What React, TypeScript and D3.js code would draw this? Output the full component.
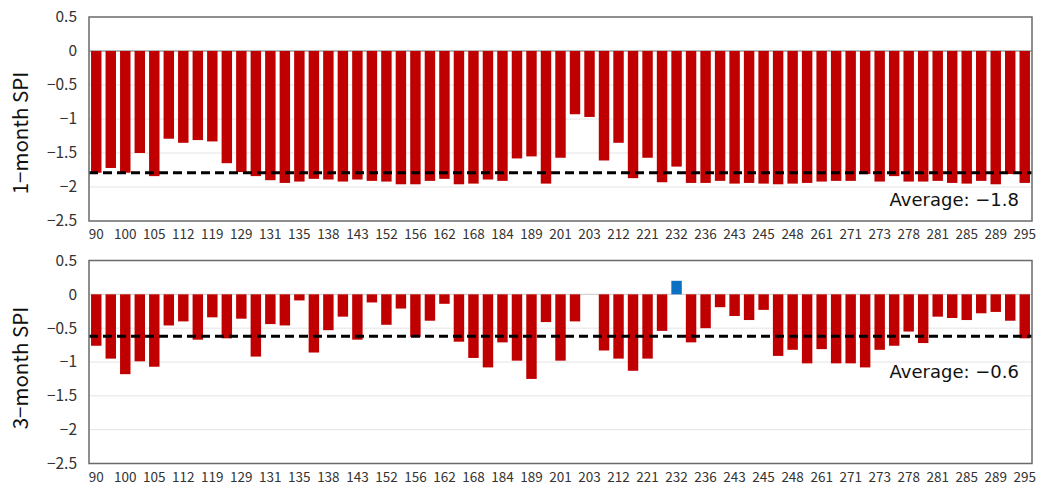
import React from "react";
import * as d3 from "d3";

// x labels are shown on every other bar (bar 0, 2, 4 ... 64)
const tickLabels = [
  "90", "100", "105", "112", "119", "129", "131", "135", "138", "143", "152",
  "156", "162", "168", "184", "189", "201", "203", "212", "221", "232", "236",
  "243", "245", "248", "261", "271", "273", "278", "281", "285", "289", "295",
];

// 1-month SPI, one value per bar
const spi1 = [
  -1.79, -1.72, -1.79, -1.5, -1.84, -1.29, -1.35, -1.31, -1.33, -1.65,
  -1.78, -1.84, -1.9, -1.94, -1.92, -1.88, -1.89, -1.92, -1.89, -1.91,
  -1.92, -1.96, -1.96, -1.91, -1.88, -1.96, -1.95, -1.89, -1.91, -1.58,
  -1.55, -1.95, -1.57, -0.93, -0.97, -1.61, -1.35, -1.87, -1.57, -1.93,
  -1.7, -1.94, -1.94, -1.91, -1.95, -1.94, -1.95, -1.96, -1.95, -1.94,
  -1.92, -1.91, -1.91, -1.81, -1.92, -1.84, -1.92, -1.92, -1.91, -1.94,
  -1.95, -1.91, -1.96, -1.81, -1.94,
];

// 3-month SPI
const spi3 = [
  -0.76, -0.95, -1.18, -0.99, -1.07, -0.46, -0.4, -0.67, -0.34, -0.65,
  -0.36, -0.92, -0.44, -0.46, -0.09, -0.86, -0.53, -0.33, -0.67, -0.12,
  -0.45, -0.21, -0.63, -0.39, -0.14, -0.7, -0.94, -1.08, -0.71, -0.98,
  -1.25, -0.41, -0.98, -0.4, 0, -0.83, -0.95, -1.13, -0.95, -0.54,
  0.2, -0.71, -0.5, -0.19, -0.32, -0.38, -0.23, -0.91, -0.82, -1.02,
  -0.81, -1.02, -1.02, -1.08, -0.82, -0.76, -0.55, -0.72, -0.33, -0.35,
  -0.38, -0.28, -0.26, -0.39, -0.65,
];

const averages = [-1.79, -0.62];
const averageLabels = ["Average: \u22121.8", "Average: \u22120.6"];
const titles = ["1\u2212month SPI", "3\u2212month SPI"];
const yTicks = [0.5, 0, -0.5, -1, -1.5, -2, -2.5];

const W = 1040;
const H = 486;
const FONT = "'Noto Sans CJK KR', 'Noto Sans', sans-serif";
const left = 89;
const right = 1032;

const panels = [
  { values: spi1, top: 17, bottom: 221, zero: "#6f6f6f", textAt: -2.28, titleY: 133 },
  { values: spi3, top: 260.5, bottom: 463.5, zero: "#d4d4d4", textAt: -1.24, titleY: 368 },
];

const fmt = d3.format("~g");

function Panel({ p, i }) {
  const x = d3
    .scaleBand<number>()
    .domain(d3.range(p.values.length))
    .range([left, right])
    .paddingInner(0.28)
    .paddingOuter(0.14);
  const y = d3.scaleLinear().domain([-2.5, 0.5]).range([p.bottom, p.top]);
  const avg = averages[i];

  return (
    <g>
      {/* grid */}
      {yTicks
        .filter((t) => t !== 0.5 && t !== -2.5 && t !== 0)
        .map((t) => (
          <line key={t} x1={left} x2={right} y1={y(t)} y2={y(t)} stroke="#e4e4e4" strokeWidth={1} />
        ))}
      <line x1={left} x2={right} y1={y(0)} y2={y(0)} stroke={p.zero} strokeWidth={1.2} />

      {/* bars */}
      {p.values.map((v, j) => (
        <rect
          key={j}
          x={x(j)}
          y={y(Math.max(0, v))}
          width={x.bandwidth()}
          height={Math.abs(y(v) - y(0))}
          fill={v > 0 ? "#0a70c4" : "#c00000"}
        />
      ))}

      {/* average */}
      <line
        x1={left}
        x2={right}
        y1={y(avg)}
        y2={y(avg)}
        stroke="#000"
        strokeWidth={3}
        strokeDasharray="9 5"
      />
      <text x={right - 13} y={y(p.textAt)} textAnchor="end" fontSize={18} fill="#111" fontFamily="'DejaVu Sans', sans-serif">
        {averageLabels[i]}
      </text>

      {/* frame */}
      <rect x={left} y={p.top} width={right - left} height={p.bottom - p.top} fill="none" stroke="#6a6a6a" strokeWidth={1.5} />

      {/* y ticks */}
      {yTicks.map((t) => (
        <text key={t} x={77} y={y(t)} dy="0.35em" textAnchor="end" fontSize={15.5} fill="#333" fontFamily={FONT}>
          {fmt(t)}
        </text>
      ))}

      {/* x labels */}
      {tickLabels.map((lab, k) => (
        <text
          key={lab}
          x={(x(k * 2) ?? 0) + x.bandwidth() / 2}
          y={p.bottom + 18}
          textAnchor="middle"
          fontSize={13.5}
          fill="#333"
          fontFamily={FONT}
        >
          {lab}
        </text>
      ))}

      <text
        transform={`translate(28, ${p.titleY}) rotate(-90)`}
        textAnchor="middle"
        fontSize={20.5}
        fill="#111"
        fontFamily={FONT}
      >
        {titles[i]}
      </text>
    </g>
  );
}

export default function App() {
  return (
    <svg
      width={W}
      height={H}
      viewBox={`0 0 ${W} ${H}`}
      style={{ position: "absolute", left: 0, top: 0, background: "#fff" }}
    >
      <rect width={W} height={H} fill="#fff" />
      {panels.map((p, i) => (
        <Panel key={i} p={p} i={i} />
      ))}
    </svg>
  );
}
